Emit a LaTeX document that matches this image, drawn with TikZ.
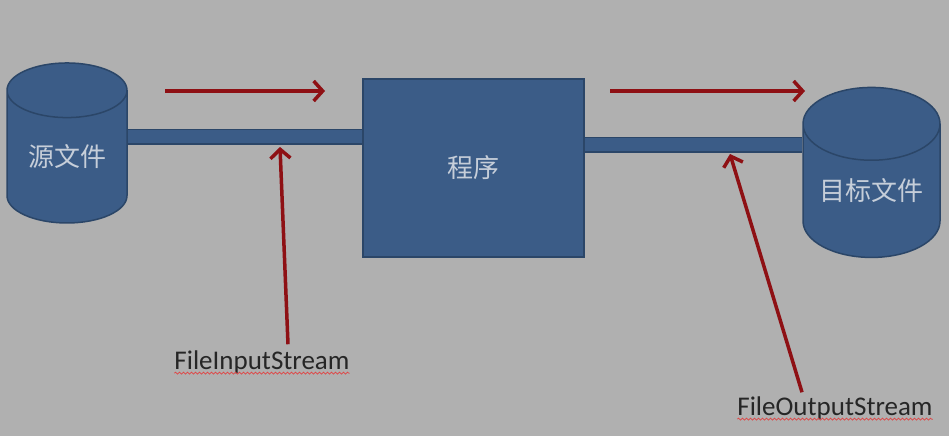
\documentclass[tikz,border=0pt]{standalone}
\usepackage{fontspec}
\setmainfont{Carlito}
\newfontfamily\cjk{Noto Sans CJK SC}
\usetikzlibrary{shapes.geometric,arrows.meta,decorations.pathmorphing}

\definecolor{bggray}{HTML}{B0B0B0}
\definecolor{boxblue}{HTML}{3B5C87}
\definecolor{edgeblue}{HTML}{2B4668}
\definecolor{darkred}{HTML}{8E1014}
\definecolor{paletext}{HTML}{C6CED9}

\begin{document}
\begin{tikzpicture}[
    x=1pt, y=-1pt,
    storage/.style={cylinder, draw=edgeblue, line width=1.5pt, fill=boxblue, shape border rotate=90, aspect=0.7, font=\cjk\fontsize{26}{30}\selectfont, text=paletext, inner sep=0pt},
    program/.style={rectangle, draw=edgeblue, line width=1.5pt, fill=boxblue, minimum width=221pt, minimum height=178pt, font=\cjk\fontsize{26}{30}\selectfont, text=paletext},
    pipe/.style={draw=edgeblue, line width=1.5pt, double=boxblue, double distance=13pt},
    flow/.style={draw=darkred, line width=3.5pt, -{Straight Barb[length=9pt,width=20pt,line width=3.5pt]}},
    streamlabel/.style={font=\fontsize{27}{30}\selectfont, text=black!85, inner sep=0pt},
    squiggle/.style={draw=red!60!bggray, line width=0.7pt, decorate, decoration={snake, segment length=4pt, amplitude=1pt}}
]
\useasboundingbox[fill=bggray] (0,0) rectangle (949,436);

% Source file
\node[storage, minimum width=120pt, minimum height=160pt] (src) at (67,157) {源文件};

% Program
\node[program] (prog) at (473.5,168) {程序};

% Target file
\node[storage, minimum width=137pt, minimum height=170pt] (dst) at (871.5,191) {目标文件};

% Pipes
\draw[pipe] (src.east |- 0,136.5) -- (prog.west |- 0,136.5);
\draw[pipe] (prog.east |- 0,144.5) -- (dst.west |- 0,144.5);

% Stream labels
\node[streamlabel] (instream) at (262,362) {FileInputStream};
\node[streamlabel] (outstream) at (835,408) {FileOutputStream};
\draw[squiggle] ([yshift=-4pt]instream.base west) -- ([yshift=-4pt]instream.base east);
\draw[squiggle] ([yshift=-4pt]outstream.base west) -- ([yshift=-4pt]outstream.base east);

% Data flow
\coordinate (inflowstart) at (165,91);
\coordinate (inflowend) at (325,91);
\coordinate (outflowstart) at (610,91);
\coordinate (outflowend) at (805,91);
\draw[flow] (inflowstart) -- (inflowend);
\draw[flow] (outflowstart) -- (outflowend);

% Stream arrows
\coordinate (inpipe) at (280,147);
\coordinate (outpipe) at (730,154);
\draw[flow] ([xshift=26pt,yshift=6pt]instream.north) -- (inpipe);
\draw[flow] ([yshift=4pt]outstream.north -| 802,0) -- (outpipe);

\end{tikzpicture}
\end{document}
